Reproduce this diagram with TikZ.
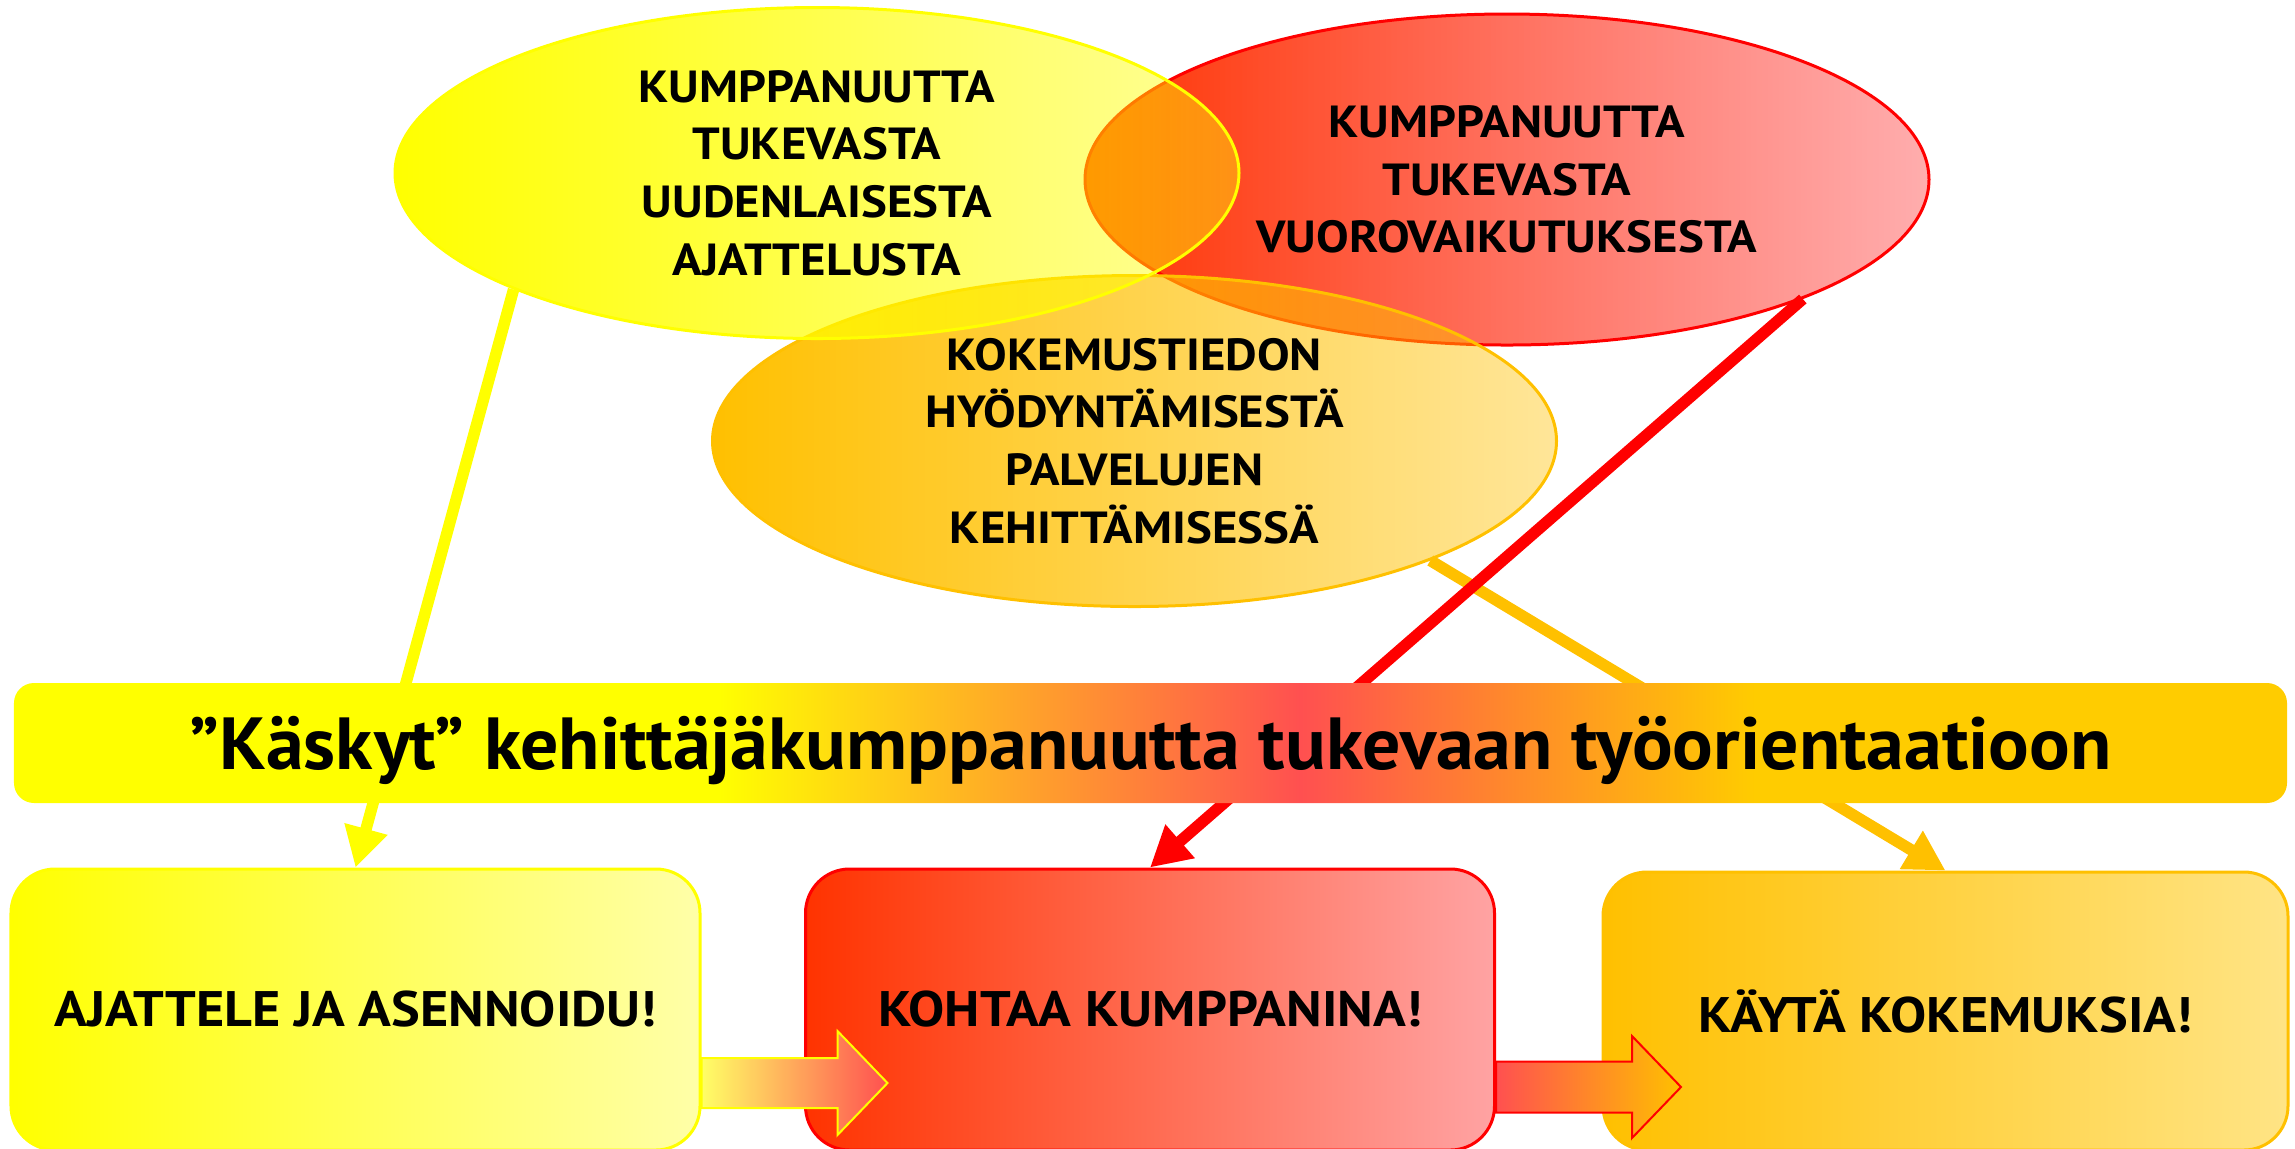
\documentclass[tikz,border=0pt]{standalone}
\usepackage{fontspec}
\setmainfont{PT Sans}[FakeStretch=1.085]
\newfontfamily\bannerfamily{PT Sans}[FakeStretch=1.027]
\usetikzlibrary{shapes.geometric,arrows.meta,fadings,calc}

\definecolor{kyellow}{HTML}{FFFF00}
\definecolor{kyellowlight}{HTML}{FFFFA8}
\definecolor{kred}{HTML}{FF0000}
\definecolor{kredorange}{HTML}{FF3300}
\definecolor{kredlight}{HTML}{FFA3A3}
\definecolor{kpink}{HTML}{FF5050}
\definecolor{kgold}{HTML}{FFC000}
\definecolor{kgoldlight}{HTML}{FFE485}
\definecolor{kbanner}{HTML}{FFCC00}

\newcommand\vennfont{\fontsize{12.8}{16.4}\selectfont\bfseries}
\newcommand\boxfont{\fontsize{14.2}{17}\selectfont\bfseries}
\newcommand\bannerfont{\bannerfamily\fontsize{21}{25}\selectfont\bfseries}

\pgfdeclarehorizontalshading{bannershade}{100bp}{color(0bp)=(kyellow); color(40.5bp)=(kyellow); color(53.3bp)=(kpink); color(63.3bp)=(kbanner); color(100bp)=(kbanner)}
\tikzfading[name=vennfade, left color=transparent!0, right color=transparent!60]

\tikzset{
  venn/.style={shape=ellipse, minimum width=84.4mm, minimum height=33.1mm, inner sep=0pt, line width=0.3mm, align=center, font=\vennfont},
  vennfill/.style 2 args={preaction={left color=#1, right color=#2, path fading=vennfade}},
  cmdbox/.style={rounded corners=4.4mm, minimum width=68.9mm, minimum height=28.1mm, inner sep=0pt, line width=0.3mm, font=\boxfont},
  link/.style={line width=1.15mm, -{Triangle[length=4mm,width=4.2mm]}},
  blockarrow/.style={line width=0.2mm, line join=miter}
}

\begin{document}
\begin{tikzpicture}[x=1mm, y=-1mm]
    \useasboundingbox (0,0) rectangle (229.5,114.8);

    \node[venn, draw=kred, vennfill={kredorange}{kred!80!white}] at (150.7,17.95) (vuoro) {KUMPPANUUTTA\\TUKEVASTA\\VUOROVAIKUTUKSESTA};
    \node[venn, draw=kgold, vennfill={kgold}{kgold}] at (113.45,44.1) (kokemus) {KOKEMUSTIEDON\\HYÖDYNTÄMISESTÄ\\PALVELUJEN\\KEHITTÄMISESSÄ};
    \node[venn, draw=kyellow, vennfill={kyellow}{kyellow}] at (81.7,17.3) (ajattelu) {KUMPPANUUTTA\\TUKEVASTA\\UUDENLAISESTA\\AJATTELUSTA};

    \node[cmdbox, draw=kyellow, left color=kyellow, right color=kyellowlight] at (35.55,100.95) (ajattele) {AJATTELE JA ASENNOIDU!};
    \node[cmdbox, draw=kred, left color=kredorange, right color=kredlight] at (115.0,100.95) (kohtaa) {KOHTAA KUMPPANINA!};
    \node[cmdbox, draw=kgold, left color=kgold, right color=kgoldlight, minimum width=68.5mm, minimum height=27.8mm] at (194.55,101.1) (kayta) {KÄYTÄ KOKEMUKSIA!};

    \draw[link, kgold] (kokemus.338.5) -- (kayta.north);
    \draw[link, kred] (vuoro.338.5) -- (kohtaa.north);
    \draw[link, kyellow] (ajattelu.201.5) -- (ajattele.north);

    \node[shade, shading=bannershade, rounded corners=2mm, minimum width=227.3mm, minimum height=12mm, inner sep=0pt, text height=20pt, text depth=5pt, font=\bannerfont] at (115.05,74.3) (kasky) {”Käskyt” kehittäjäkumppanuutta tukevaan työorientaatioon};

    \coordinate (nuoli1) at ($(ajattele.east)+(0,7.35)$);
    \coordinate (nuoli2) at ($(kohtaa.east)+(0,7.75)$);
    \draw[blockarrow, draw=kyellow, left color=kyellow!60!white, right color=kpink] (nuoli1) ++(0,-2.5) -- ++(13.6,0) -- ++(0,-2.7) -- ++(5,5.2) -- ++(-5,5.2) -- ++(0,-2.7) -- ++(-13.6,0) -- cycle;
    \draw[blockarrow, draw=kred, left color=kpink, right color=kgold] (nuoli2) ++(0,-2.55) -- ++(13.6,0) -- ++(0,-2.55) -- ++(4.9,5.1) -- ++(-4.9,5.1) -- ++(0,-2.55) -- ++(-13.6,0) -- cycle;
\end{tikzpicture}
\end{document}
